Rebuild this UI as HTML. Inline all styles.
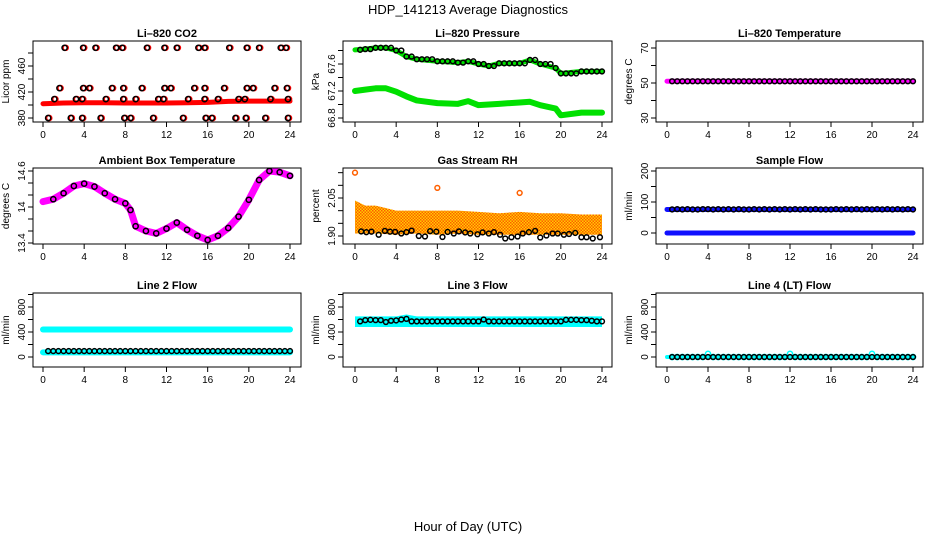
<!DOCTYPE html>
<html><head><meta charset="utf-8"><style>
html,body{margin:0;padding:0;background:#fff;}
svg{display:block;font-family:"Liberation Sans",sans-serif;}
</style></head><body>
<svg id="chart" width="936" height="540" viewBox="0 0 936 540" xmlns="http://www.w3.org/2000/svg">
<defs>
<pattern id="rhpat" width="3" height="3" patternUnits="userSpaceOnUse"><rect width="3" height="3" fill="#ffd000"/><rect width="1.5" height="1.5" fill="#ff5a00"/><rect x="1.5" y="1.5" width="1.5" height="1.5" fill="#ff5a00"/></pattern>
</defs>
<text x="468" y="14" text-anchor="middle" font-size="13">HDP_141213  Average Diagnostics</text>
<text x="468" y="531" text-anchor="middle" font-size="13">Hour of Day (UTC)</text>
</svg>
<script>
// ---------- data ----------
const xTickVals = [0,4,8,12,16,20,24];
// CO2
const co2BandHours = [0,2,4,6,8,10,12,14,16,18,20,22,24];
const co2BandVals = [402,403,403.5,403.5,403,403,403,403.5,404,405.5,406,406,406];
const co2TopHours = [2.2,4.0,5.2,7.2,7.8,10.2,11.9,13.1,15.2,15.8,18.2,19.9,21.1,23.2,23.7];
const co2MidHours = [1.7,4.0,4.6,6.8,7.9,9.7,11.9,12.5,14.8,15.8,17.7,19.9,20.5,22.6,23.8];
const co2LowHours = [1.2,3.3,3.9,6.2,7.9,9.1,11.3,11.8,14.2,15.8,17.1,19.1,19.7,22.2,23.9];
const co2BotHours = [0.6,2.8,3.9,5.7,8.0,8.6,10.8,13.7,15.9,16.5,18.8,19.8,21.7,23.9];
const co2Levels = [488,426,409,380];
// Pressure
const presHours = [0,1,2,3,4,5,6,8,10,11,12,13,14,16,17,18,19.5,20,22,24];
const presTop = [67.81,67.82,67.84,67.84,67.8,67.71,67.67,67.64,67.62,67.64,67.6,67.57,67.61,67.61,67.66,67.6,67.54,67.46,67.49,67.49];
const presLow = [67.2,67.22,67.24,67.24,67.19,67.12,67.06,67.02,67.01,67.05,66.99,67.0,67.01,67.03,67.04,66.99,66.94,66.84,66.88,66.88];
// Li-820 temperature
const tempHours = [0,6,12,18,24];
const tempVals = [51,51,51,51,51];
// Ambient box temperature
const ambHours = [0,1,2,3,4,5,6,7,8,8.5,9,10,11,12,13,14,15,16,17,18,19,20,21,22,23,24];
const ambVals = [14.09,14.13,14.23,14.35,14.39,14.34,14.23,14.13,14.06,13.95,13.68,13.6,13.56,13.64,13.74,13.62,13.52,13.45,13.52,13.65,13.84,14.12,14.45,14.6,14.58,14.52];
// Gas stream RH
const rhHours = [0,1,2,4,6,8,10,12,14,16,18,20,22,24];
const rhUpper = [2.04,2.02,2.02,2.0,2.0,2.0,2.0,1.995,1.99,1.995,1.99,1.99,1.985,1.985];
const rhLower = [1.91,1.91,1.91,1.905,1.91,1.905,1.91,1.905,1.905,1.905,1.905,1.905,1.905,1.905];
const rhOutHours = [0,8,16];
const rhOutVals = [2.15,2.09,2.07];
const rhCircHours = [0.6,1.1,1.6,2.3,2.9,3.4,3.9,4.5,5.0,5.5,6.2,6.8,7.3,7.9,8.5,9.0,9.6,10.1,10.7,11.2,11.9,12.4,13.0,13.5,14.1,14.6,15.2,15.8,16.3,16.9,17.5,18.0,18.6,19.2,19.7,20.3,20.8,21.4,22.0,22.5,23.1,23.8];
const rhCircVals = [1.918,1.915,1.917,1.905,1.92,1.917,1.916,1.91,1.915,1.921,1.9,1.898,1.919,1.917,1.896,1.916,1.91,1.918,1.914,1.91,1.907,1.914,1.91,1.915,1.905,1.89,1.895,1.898,1.91,1.915,1.92,1.894,1.902,1.91,1.91,1.905,1.908,1.912,1.895,1.895,1.89,1.895];
// Sample flow
const sampleHours = [0,24];
const sampleHigh = [76,76];
const sampleZero = [0,0];
// Flow circles (every half hour)
const flowCircHours = [0.5,1,1.5,2,2.5,3,3.5,4,4.5,5,5.5,6,6.5,7,7.5,8,8.5,9,9.5,10,10.5,11,11.5,12,12.5,13,13.5,14,14.5,15,15.5,16,16.5,17,17.5,18,18.5,19,19.5,20,20.5,21,21.5,22,22.5,23,23.5,24];
const sampleCirc = [76,77,76,77,76,76,77,77,76,77,76,77,76,77,76,76,77,76,77,76,77,76,77,76,77,76,77,76,77,76,76,76,77,76,77,76,77,76,77,76,77,76,77,76,77,76,77,76];
// Line 2
const line2Hours = [0,24];
const line2Cyan = [440,440];
const line2CyanLow = [75,75];
const line2Circ = [95,95,95,95,95,95,95,95,95,95,95,95,95,95,95,95,95,95,95,95,95,95,95,95,95,95,95,95,95,95,95,95,95,95,95,95,95,95,95,95,95,95,95,95,95,95,95,95];
// Line 3
const line3Hours = [0,4,5,6,12,20,24];
const line3Upper = [650,650,680,650,650,650,650];
const line3Lower = [480,480,480,480,480,480,480];
const line3Circ = [570,590,595,590,590,560,580,585,600,610,570,570,570,570,570,570,570,570,570,570,570,570,570,570,600,570,570,570,570,570,570,570,570,570,570,570,570,570,570,570,595,595,595,590,590,580,570,570];
// Line 4
const line4Hours = [0,24];
const line4Cyan = [0,0];
const line4Circ = [0,0,0,0,0,0,0,50,0,0,0,0,0,0,0,0,0,0,0,0,0,0,0,50,0,0,0,0,0,0,0,0,0,0,0,0,0,0,0,50,0,0,0,0,0,0,0,0];

// ---------- layout ----------
const NS = "http://www.w3.org/2000/svg";
const svg = document.getElementById('chart');
const cols = [{l:33,r:301,x0:43,x24:290},{l:343,r:612,x0:355,x24:602},{l:656,r:923,x0:667,x24:913}];
const rows = [{t:41,b:122},{t:168,b:244},{t:293,b:367}];
function mk(tag, attrs, parent){const e=document.createElementNS(NS,tag);for(const k in attrs)e.setAttribute(k,attrs[k]);(parent||svg).appendChild(e);return e;}

function panel(ci, ri, title, ylab, ticks, labels, v1, p1, v2, p2, name){
  const c=cols[ci], r=rows[ri];
  const g=mk('g',{});
  
  
  const xs=h=>c.x0+(c.x24-c.x0)*h/24;
  const ys=v=>p1+(v-v1)*(p2-p1)/(v2-v1);
  const t=mk('text',{x:(c.l+c.r)/2,y:r.t-4,'text-anchor':'middle','font-size':11,'font-weight':'bold'},g);
  t.textContent=title;
  
  
  const yl=mk('text',{transform:`translate(${c.l-24},${(r.t+r.b)/2}) rotate(-90)`,'text-anchor':'middle','font-size':10},g);
  yl.textContent=ylab;
  
  
  // x axis
  const xa=mk('g',{stroke:'#000','stroke-width':1},g);
  
  
  mk('line',{x1:xs(0),x2:xs(24),y1:r.b,y2:r.b},xa);
  xTickVals.forEach(v=>{
    mk('line',{x1:xs(v),x2:xs(v),y1:r.b,y2:r.b+5},xa);
    const tl=mk('text',{x:xs(v),y:r.b+16,'text-anchor':'middle','font-size':10,stroke:'none'},xa);
    tl.textContent=v;
    
    
  });
  const ya=mk('g',{stroke:'#000','stroke-width':1},g);
  
  
  mk('line',{x1:c.l,x2:c.l,y1:ys(ticks[0]),y2:ys(ticks[ticks.length-1])},ya);
  ticks.forEach(v=>{
    mk('line',{x1:c.l-5,x2:c.l,y1:ys(v),y2:ys(v)},ya);
  });
  labels.forEach(v=>{
    const tl=mk('text',{transform:`translate(${c.l-8},${ys(v)}) rotate(-90)`,'text-anchor':'middle','font-size':10,stroke:'none'},ya);
    tl.textContent=v;
    
    
  });
  const plot=mk('g',{},g);
  const box=mk('rect',{x:c.l,y:r.t,width:c.r-c.l,height:r.b-r.t,fill:'none',stroke:'#000','stroke-width':1},g);
  
  
  return {xs,ys,plot};
}
function line(p, hrs, vals, color, w, name){
  const pts=hrs.map((h,i)=>p.xs(h)+','+p.ys(vals[i])).join(' ');
  const e=mk('polyline',{points:pts,fill:'none',stroke:color,'stroke-width':w,'stroke-linecap':'round','stroke-linejoin':'round'},p.plot);
  
  
}
function band(p, hrs, up, lo, fill, name){
  const pts=hrs.map((h,i)=>p.xs(h)+','+p.ys(up[i])).concat(hrs.slice().reverse().map((h,j)=>p.xs(h)+','+p.ys(lo[hrs.length-1-j]))).join(' ');
  const e=mk('polygon',{points:pts,fill:fill},p.plot);
  
  
}
function circles(p, hrs, vals, color, name, r){
  hrs.forEach((h,i)=>{
    const e=mk('circle',{cx:p.xs(h),cy:p.ys(vals[i]),r:r||2.6,fill:'none',stroke:color,'stroke-width':1.5},p.plot);
    
    
  });
}

// CO2
let p=panel(0,0,'Li–820 CO2','Licor ppm',[380,400,420,440,460,480],[380,420,460],380,118,460,66,'co2');
line(p,co2BandHours,co2BandVals,'#ff0000',5,'co2-band');
[co2TopHours,co2MidHours,co2LowHours,co2BotHours].forEach((hs,k)=>{
  circles(p,hs,hs.map(()=>co2Levels[k]),'#ff0000','co2-red-point',2.6);
  circles(p,hs.map(h=>h-0.1),hs.map(()=>co2Levels[k]),'#000','co2-point',2.6);
});
// Pressure
p=panel(1,0,'Li–820 Pressure','kPa',[66.8,67.0,67.2,67.4,67.6,67.8],[66.8,67.2,67.6],66.8,118,67.6,64,'pressure');
line(p,presHours,presTop,'#00e000',5,'pressure-upper-series');
line(p,presHours,presLow,'#00e000',6,'pressure-lower-series');
circles(p,flowCircHours,flowCircHours.map(h=>{let i=0;while(i<presHours.length-2&&presHours[i+1]<=h)i++;return presTop[i];}),'#000','pressure-point',2.4);
// Temperature
p=panel(2,0,'Li–820 Temperature','degrees C',[30,40,50,60,70],[30,50,70],30,118,70,48,'li820-temp');
line(p,tempHours,tempVals,'#ff00ff',5,'temp-series');
circles(p,flowCircHours,flowCircHours.map(()=>51),'#000','temp-point',2.4);
// Ambient
p=panel(0,1,'Ambient Box Temperature','degrees C',[13.4,13.6,13.8,14.0,14.2,14.4,14.6],[13.4,14.0,14.6],13.4,243,14.6,171,'ambient');
line(p,ambHours,ambVals,'#ff00ff',7,'ambient-series');
circles(p,ambHours.slice(1),ambVals.slice(1),'#000','ambient-point',2.6);
// RH
p=panel(1,1,'Gas Stream RH','percent',[1.90,1.95,2.00,2.05,2.10,2.15],['1.90','2.05'],1.90,236,2.05,198,'rh');
band(p,rhHours,rhUpper,rhLower,'url(#rhpat)','rh-band');
circles(p,rhOutHours,rhOutVals,'#ff6000','rh-outlier',2.4);
circles(p,rhCircHours,rhCircVals,'#000','rh-point',2.4);
// Sample flow
p=panel(2,1,'Sample Flow','ml/min',[0,50,100,150,200],[0,100,200],0,233,200,171,'sample-flow');
line(p,sampleHours,sampleHigh,'#1010ff',5,'sample-flow-series');
line(p,sampleHours,sampleZero,'#1010ff',5,'sample-flow-zero-series');
circles(p,flowCircHours,sampleCirc,'#000','sample-flow-point',2.4);
// Line 2
const fTicks=[0,200,400,600,800,1000];
p=panel(0,2,'Line 2 Flow','ml/min',fTicks,[0,400,800],0,357,800,307,'line2');
line(p,line2Hours,line2Cyan,'#00ffff',6,'line2-series');
line(p,line2Hours,line2CyanLow,'#00ffff',6,'line2-low-series');
circles(p,flowCircHours,line2Circ,'#000','line2-point',2.4);
// Line 3
p=panel(1,2,'Line 3 Flow','ml/min',fTicks,[0,400,800],0,357,800,307,'line3');
band(p,line3Hours,line3Upper,line3Lower,'#00ffff','line3-band');
circles(p,flowCircHours,line3Circ,'#000','line3-point',2.4);
// Line 4
p=panel(2,2,'Line 4 (LT) Flow','ml/min',fTicks,[0,400,800],0,357,800,307,'line4');
line(p,line4Hours,line4Cyan,'#00ffff',4,'line4-series');
circles(p,flowCircHours,line4Circ,'#00ffff','line4-cyan-point',2.6);
circles(p,flowCircHours,line4Circ.map(()=>0),'#000','line4-point',2.4);
</script>
</body></html>
